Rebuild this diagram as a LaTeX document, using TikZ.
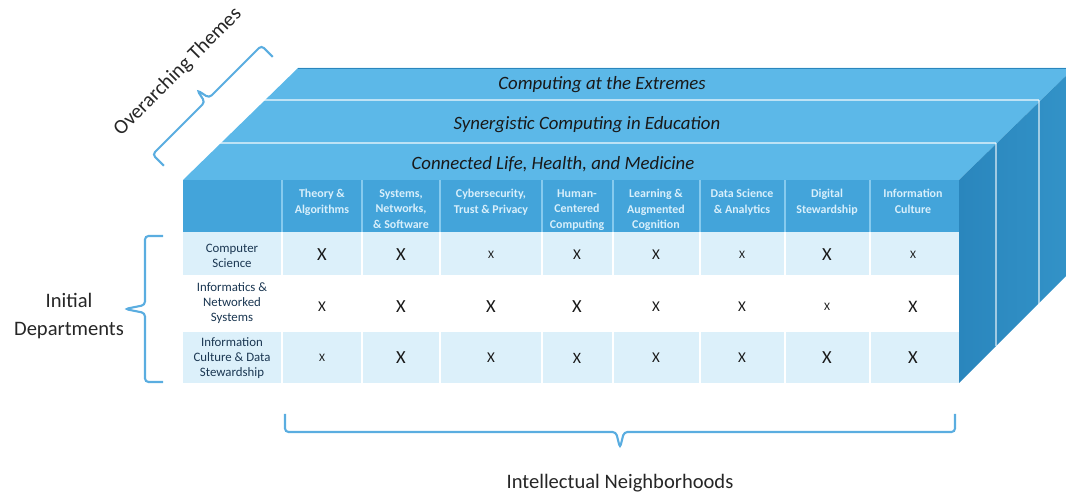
\documentclass[tikz,border=0pt]{standalone}
\usepackage{fontspec}
\setmainfont{Carlito}

\definecolor{topblue}{HTML}{5CB8E8}
\definecolor{headblue}{HTML}{43A4DA}
\definecolor{headline}{HTML}{86CAEE}
\definecolor{sidedark}{HTML}{2A86BD}
\definecolor{sidelight}{HTML}{3393C8}
\definecolor{rowblue}{HTML}{DCF0FA}
\definecolor{bracecol}{HTML}{5AADE0}
\definecolor{deptcol}{HTML}{1B3752}
\definecolor{headtext}{HTML}{D8EFFB}

\begin{document}
\begin{tikzpicture}[
    x=0.02cm, y=-0.02cm,
    theme/.style={font=\fontsize{10.7}{12}\selectfont\itshape, text=black!90},
    colhead/.style={font=\fontsize{6.8}{8.8}\selectfont\bfseries, text=headtext,
      align=center, anchor=north, inner sep=0pt},
    dept/.style={font=\fontsize{7.3}{8.5}\selectfont, text=deptcol, align=center, inner sep=0pt},
    xmark/.style={text=black!90, inner sep=0pt},
    brace/.style={draw=bracecol, line width=1.2pt, rounded corners=2pt},
    bracetext/.style={font=\fontsize{11.7}{15.5}\selectfont, text=black!85, align=center}
  ]
  \useasboundingbox (0,0) rectangle (1066,496);

  % top of the block, one strip per theme
  \fill[topblue] (183,180) -- (959,180) -- (1074,68) -- (298,68) -- cycle;
  \draw[sidedark, line width=0.4pt] (298,68) -- (1074,68);
  \draw[white, opacity=.6, line width=1.5pt] (220,143) -- (996,143);
  \draw[white, opacity=.6, line width=1.5pt] (263,100) -- (1039,100);
  \node[theme] (t3) at (602,85)  {Computing at the Extremes};
  \node[theme] (t2) at (587,125) {Synergistic Computing in Education};
  \node[theme] (t1) at (553,164) {Connected Life, Health, and Medicine};

  % right side of the block
  \shade[left color=sidedark, right color=sidelight]
    (959,180) -- (1074,68) -- (1074,268) -- (959,383) -- cycle;
  \draw[white, opacity=.55, line width=1.2pt] (996,143) -- (996,346);
  \draw[white, opacity=.55, line width=1.2pt] (1039,100) -- (1039,304);

  % front: header and department rows
  \fill[headblue] (183,180) rectangle (959,232);
  \fill[rowblue] (183,232) rectangle (959,275);
  \fill[white]   (183,275) rectangle (959,332);
  \fill[rowblue] (183,332) rectangle (959,383);
  \foreach \xx in {282,362,440,542,613,700,785,870} {
    \draw[headline, line width=1pt] (\xx,180) -- (\xx,232);
    \draw[white, line width=0.8pt] (\xx,232) -- (\xx,383);
  }

  \foreach \lab/\cx [count=\c] in {
      {Theory \&\\Algorithms}/322,
      {Systems,\\Networks,\\\& Software}/401,
      {Cybersecurity,\\Trust \& Privacy}/491,
      {Human-\\Centered\\Computing}/577,
      {Learning \&\\Augmented\\Cognition}/656,
      {Data Science\\\& Analytics}/742,
      {Digital\\Stewardship}/827,
      {Information\\Culture}/913}
    \node[colhead] (h\c) at (\cx,189) {\lab};

  \node[dept] (d1) at (232,256) {Computer\\Science};
  \node[dept] (d2) at (232,303) {Informatics \&\\Networked\\Systems};
  \node[dept] (d3) at (232,358) {Information\\Culture \& Data\\Stewardship};

  % marks, sized by strength of the link
  \foreach \cx/\sz [count=\c] in {322/10.5,401/10.5,491/6.5,577/8.5,656/8.5,742/6.5,827/10.5,913/6.5}
    \node[xmark, font=\fontsize{\sz}{\sz}\selectfont] (m1\c) at (\cx,255) {X};
  \foreach \cx/\sz [count=\c] in {322/8.5,401/10.5,491/10.5,577/10.5,656/8.5,742/8.5,827/6.5,913/10}
    \node[xmark, font=\fontsize{\sz}{\sz}\selectfont] (m2\c) at (\cx,307) {X};
  \foreach \cx/\sz [count=\c] in {322/6.5,401/10.5,491/8.5,577/9,656/8.5,742/8.5,827/10.5,913/10.5}
    \node[xmark, font=\fontsize{\sz}{\sz}\selectfont] (m3\c) at (\cx,358) {X};

  % brackets with their labels
  \begin{scope}[shift={(207,100)}, rotate=45]
    \draw[brace] (-77,16) -- (-77,0) -- (-3,0) -- (0,-14) -- (3,0) -- (77,0) -- (77,16);
  \end{scope}
  \node[bracetext, rotate=45] (themes) at (178,72) {Overarching Themes};

  \coordinate (lb-top) at (163,236);
  \coordinate (lb-bot) at (163,382);
  \coordinate (lb-tip) at (125,309);
  \draw[brace] (lb-top) -- (145,236) -- (145,305) -- (lb-tip) -- (145,313) -- (145,382) -- (lb-bot);
  \node[bracetext] (depts) at (69,316) {Initial\\Departments};

  \coordinate (bb-l) at (285,414);
  \coordinate (bb-r) at (955,414);
  \coordinate (bb-tip) at (620,448);
  \draw[brace] (bb-l) -- (285,432) -- (616,432) -- (bb-tip) -- (624,432) -- (955,432) -- (bb-r);
  \node[bracetext] (hoods) at (620,483) {Intellectual Neighborhoods};
\end{tikzpicture}
\end{document}
